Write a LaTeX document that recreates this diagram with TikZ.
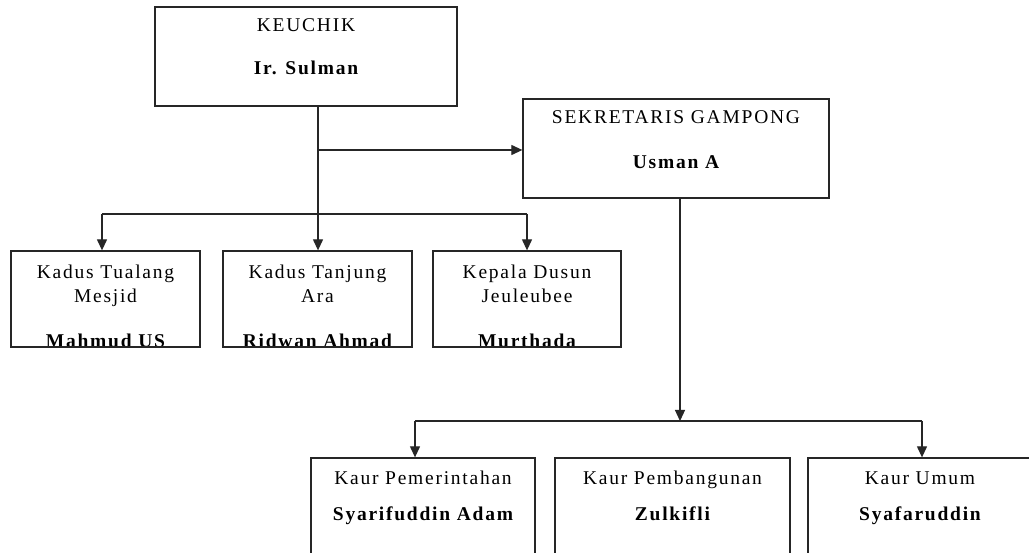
\documentclass[tikz,border=0pt]{standalone}
\usepackage{fontspec}
\setmainfont{Liberation Serif}[LetterSpace=9]
\usetikzlibrary{arrows.meta}
\begin{document}
\begin{tikzpicture}[x=1pt,y=-1pt,
  box/.style={draw=black!85, line width=1.3pt, inner sep=0pt},
  conn/.style={draw=black!85, line width=1.2pt},
  arr/.style={conn, -{Triangle[length=11pt,width=10pt]}},
  lbl/.style={anchor=base, inner sep=0pt, font=\fontsize{19.5pt}{22pt}\selectfont},
  nm/.style={lbl, font=\fontsize{19.5pt}{22pt}\selectfont\bfseries}]
\useasboundingbox (0,0) rectangle (1029,553);
\clip (0,0) rectangle (1029,553);
\fill[white] (0,0) rectangle (1029,553);

% top boxes
\node[box, minimum width=302pt, minimum height=99pt] (k) at (306,56.5) {};
\node[lbl] (kt) at (306,32) {KEUCHIK};
\node[nm] (kn) at (306,75) {Ir. Sulman};

\node[box, minimum width=306pt, minimum height=99pt] (s) at (676,148.5) {};
\node[lbl] (st) at (676,124) {SEKRETARIS GAMPONG};
\node[nm] (sn) at (676,169) {Usman A};

% row 1
\node[box, minimum width=189pt, minimum height=96pt] (b1) at (105.5,299) {};
\node[box, minimum width=189pt, minimum height=96pt] (b2) at (317.5,299) {};
\node[box, minimum width=188pt, minimum height=96pt] (b3) at (527,299) {};
\node[lbl] (b1a) at (105.5,279) {Kadus Tualang};
\node[lbl] (b1b) at (105.5,303) {Mesjid};
\node[lbl] (b2a) at (317.5,279) {Kadus Tanjung};
\node[lbl] (b2b) at (317.5,303) {Ara};
\node[lbl] (b3a) at (527,279) {Kepala Dusun};
\node[lbl] (b3b) at (527,303) {Jeuleubee};
\begin{scope}
  \clip (0,252) rectangle (1029,345.5);
  \node[nm] (b1n) at (105.5,348) {Mahmud US};
  \node[nm] (b2n) at (317.5,348) {Ridwan Ahmad};
  \node[nm] (b3n) at (527,348) {Murthada};
\end{scope}

% row 2
\node[box, minimum width=224pt, minimum height=130pt] (c1) at (423,523) {};
\node[box, minimum width=235pt, minimum height=130pt] (c2) at (672.5,523) {};
\node[box, minimum width=224pt, minimum height=130pt] (c3) at (920,523) {};
\node[lbl] (c1a) at (423,485) {Kaur Pemerintahan};
\node[nm] (c1n) at (423,520) {Syarifuddin Adam};
\node[lbl] (c2a) at (672.5,485) {Kaur Pembangunan};
\node[nm] (c2n) at (672.5,520) {Zulkifli};
\node[lbl] (c3a) at (920,485) {Kaur Umum};
\node[nm] (c3n) at (920,520) {Syafaruddin};

% connectors
\coordinate (j1) at (318,150);
\coordinate (l1) at (102,214);
\coordinate (l3) at (527,214);
\draw[conn] (k.south -| j1) -- (j1);
\draw[arr] (j1) -- (s.west |- j1);
\draw[arr] (j1) -- (b2.north -| j1);
\draw[conn] (l1) -- (l3);
\draw[arr] (l1) -- (b1.north -| l1);
\draw[arr] (l3) -- (b3.north -| l3);

\coordinate (r2) at (680,421);
\coordinate (a1) at (415,421);
\coordinate (a3) at (922,421);
\draw[arr] (s.south -| r2) -- (r2);
\draw[conn] (a1) -- (a3);
\draw[arr] (a1) -- (c1.north -| a1);
\draw[arr] (a3) -- (c3.north -| a3);
\end{tikzpicture}
\end{document}
